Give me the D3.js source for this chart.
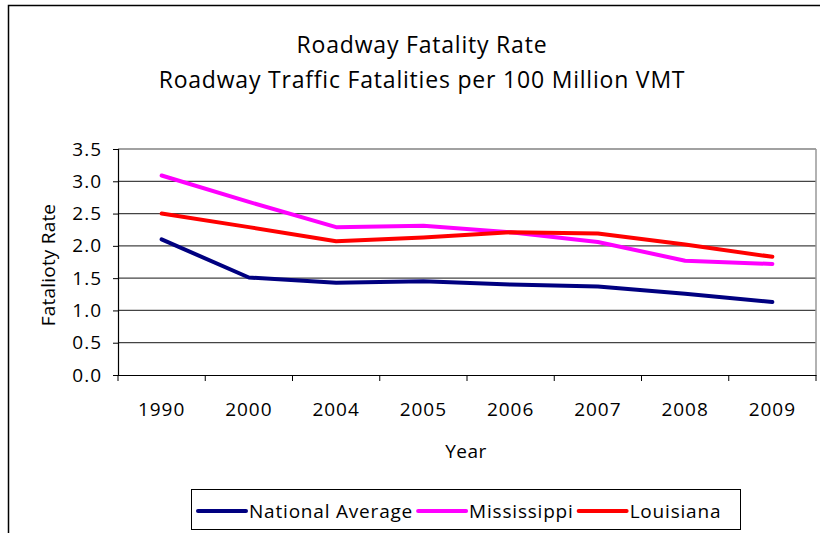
<!DOCTYPE html>
<html>
<head>
<meta charset="utf-8">
<script src="https://cdn.jsdelivr.net/npm/d3@7"></script>
<style>
  body { margin: 0; background: #fff; }
  svg { display: block; font-family: "Open Sans", sans-serif; }
</style>
</head>
<body>
<div id="chart"></div>
<script>
const years = ['1990', '2000', '2004', '2005', '2006', '2007', '2008', '2009'];
const national = [2.10, 1.51, 1.43, 1.45, 1.40, 1.37, 1.26, 1.13];
const mississippi = [3.09, 2.68, 2.29, 2.31, 2.21, 2.06, 1.77, 1.72];
const louisiana = [2.50, 2.29, 2.07, 2.13, 2.21, 2.19, 2.02, 1.83];
const yTicks = [0, 0.5, 1, 1.5, 2, 2.5, 3, 3.5];

const seriesNames = ['National Average', 'Mississippi', 'Louisiana'];
const seriesColors = ['#000080', '#ff00ff', '#ff0000'];
const series = [national, mississippi, louisiana];

const width = 820, height = 533;
const margin = {top: 149, right: 4, bottom: 158, left: 118};
const innerW = width - margin.left - margin.right;
const innerH = height - margin.top - margin.bottom;
const fontSize = 19;

const svg = d3.select('#chart').append('svg')
  .attr('width', width)
  .attr('height', height);

// outer chart border
svg.append('rect')
  .attr('x', 8.5).attr('y', 5.5)
  .attr('width', 830).attr('height', 540)
  .attr('fill', 'none')
  .attr('stroke', '#000')
  .attr('stroke-width', 1.5);

// titles
svg.append('text')
  .attr('x', 422).attr('y', 53)
  .attr('text-anchor', 'middle')
  .attr('font-size', 23)
  .attr('letter-spacing', 0.8)
  .text('Roadway Fatality Rate');
svg.append('text')
  .attr('x', 422).attr('y', 88)
  .attr('text-anchor', 'middle')
  .attr('font-size', 23)
  .attr('letter-spacing', 0.8)
  .text('Roadway Traffic Fatalities per 100 Million VMT');

const x = d3.scaleBand().domain(years).range([0, innerW]);
const y = d3.scaleLinear().domain([0, 3.5]).range([innerH, 0]);

const g = svg.append('g')
  .attr('transform', `translate(${margin.left},${margin.top})`);

// gridlines
g.append('g')
  .selectAll('line')
  .data(yTicks.filter(d => d > 0))
  .join('line')
    .attr('x1', 0).attr('x2', innerW)
    .attr('y1', d => y(d)).attr('y2', d => y(d))
    .attr('stroke', '#444')
    .attr('stroke-width', 1.2);

// right edge of plot area
g.append('line')
  .attr('x1', innerW).attr('x2', innerW)
  .attr('y1', 0).attr('y2', innerH)
  .attr('stroke', '#999')
  .attr('stroke-width', 1.5);

// y axis
const yAxis = g.append('g')
  .call(d3.axisLeft(y).tickValues(yTicks).tickFormat(d3.format('.1f')).tickSize(5).tickPadding(11));
yAxis.select('.domain').attr('stroke', '#000').attr('stroke-width', 1.2);
yAxis.selectAll('.tick line').attr('stroke', '#000');
yAxis.selectAll('text')
  .attr('font-size', fontSize)
  .attr('font-family', '"Open Sans", sans-serif')
  .attr('letter-spacing', 1)
  .attr('fill', '#000');

// x axis
const xAxis = g.append('g')
  .attr('transform', `translate(0,${innerH})`)
  .call(d3.axisBottom(x).tickSize(0).tickPadding(28));
xAxis.select('.domain').attr('stroke', '#000').attr('stroke-width', 1.2);
xAxis.selectAll('text')
  .attr('font-size', fontSize)
  .attr('font-family', '"Open Sans", sans-serif')
  .attr('letter-spacing', 1)
  .attr('fill', '#000');
xAxis.append('g')
  .selectAll('line')
  .data(d3.range(years.length + 1))
  .join('line')
    .attr('x1', i => i * x.bandwidth()).attr('x2', i => i * x.bandwidth())
    .attr('y1', 0).attr('y2', 6)
    .attr('stroke', '#000');

// lines
const line = d3.line()
  .x((d, i) => x(years[i]) + x.bandwidth() / 2)
  .y(d => y(d));

g.append('g')
  .selectAll('path')
  .data(series)
  .join('path')
    .attr('d', line)
    .attr('fill', 'none')
    .attr('stroke', (d, i) => seriesColors[i])
    .attr('stroke-width', 4)
    .attr('stroke-linejoin', 'round')
    .attr('stroke-linecap', 'round');

// axis titles
svg.append('text')
  .attr('transform', `translate(55,${margin.top + innerH / 2 + 3}) rotate(-90)`)
  .attr('text-anchor', 'middle')
  .attr('font-size', fontSize)
  .attr('letter-spacing', 0.2)
  .text('Fatalioty Rate');
svg.append('text')
  .attr('x', 466).attr('y', 458)
  .attr('text-anchor', 'middle')
  .attr('font-size', fontSize)
  .attr('letter-spacing', 0.5)
  .text('Year');

// legend
const legend = svg.append('g');
legend.append('rect')
  .attr('x', 191.5).attr('y', 489.5)
  .attr('width', 549).attr('height', 40)
  .attr('fill', '#fff')
  .attr('stroke', '#000')
  .attr('stroke-width', 1);

let lx = 198;
seriesNames.forEach((name, i) => {
  const item = legend.append('g').attr('transform', `translate(${lx},511)`);
  item.append('line')
    .attr('x1', 0).attr('x2', 48)
    .attr('stroke', seriesColors[i])
    .attr('stroke-width', 4)
    .attr('stroke-linecap', 'round');
  const t = item.append('text')
    .attr('x', 51).attr('dy', '0.35em')
    .attr('font-size', fontSize)
    .attr('letter-spacing', 0.8)
    .text(name);
  lx += 51 + t.node().getComputedTextLength() + 5;
});
</script>
</body>
</html>
